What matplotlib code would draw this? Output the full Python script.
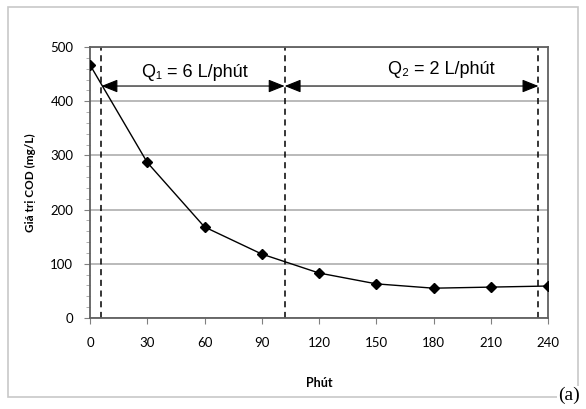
import matplotlib.pyplot as plt
from matplotlib.patches import Rectangle

# du lieu doc tu hinh
phut = [0, 30, 60, 90, 120, 150, 180, 210, 240]
cod = [467, 287, 168, 118, 83, 63, 55, 57, 59]
moc_thoi_gian = [6, 102, 235]   # cac duong dut net
muc_mui_ten = 428
nhan_q1 = 'Q₁ = 6 L/phút'
nhan_q2 = 'Q₂ = 2 L/phút'

fig = plt.figure(figsize=(5.86, 4.09), dpi=100)
W, H = 586, 409

# khung ngoai
fig.patches.append(Rectangle((8 / W, 1 - 397 / H), 570 / W, 390 / H, transform=fig.transFigure,
                             fill=False, edgecolor='#c8c8c8', linewidth=1.2))

ax = fig.add_axes([90 / W, 1 - 318 / H, 458 / W, 271 / H])
ax.set_xlim(0, 240)
ax.set_ylim(0, 500)

ax.plot(phut, cod, color='black', linewidth=1.0, marker='D', markersize=5, zorder=3)

for x in moc_thoi_gian:
    ax.axvline(x, color='black', linestyle=(0, (4, 3)), linewidth=1.1, zorder=2)

mui_ten = dict(arrowstyle='<|-|>,head_length=1.0,head_width=0.4', color='black', lw=0.8,
               shrinkA=0, shrinkB=0)
ax.annotate('', xy=(moc_thoi_gian[0], muc_mui_ten), xytext=(moc_thoi_gian[1], muc_mui_ten),
            arrowprops=mui_ten)
ax.annotate('', xy=(moc_thoi_gian[1], muc_mui_ten), xytext=(moc_thoi_gian[2], muc_mui_ten),
            arrowprops=mui_ten)
ax.text(55, 453, nhan_q1, ha='center', va='center', fontsize=13, family='Liberation Sans')
ax.text(184, 458, nhan_q2, ha='center', va='center', fontsize=13, family='Liberation Sans')

ax.set_xticks(phut)
ax.set_yticks([0, 100, 200, 300, 400, 500])
ax.set_yticks(range(0, 501, 20), minor=True)
ax.grid(axis='y', color='#b4b4b4', linewidth=1.3)
ax.set_axisbelow(True)
for s in ax.spines.values():
    s.set_color('#606060')
    s.set_linewidth(1.3)
ax.tick_params(axis='both', labelsize=9.5, colors='#808080', labelcolor='black', length=4, direction='out')
ax.tick_params(axis='x', pad=10)
ax.tick_params(axis='y', pad=8)
ax.tick_params(axis='y', which='minor', length=3, colors='#a0a0a0')
for lbl in ax.get_xticklabels() + ax.get_yticklabels():
    lbl.set_family('Lato')

ax.set_xlabel('Phút', fontsize=9, fontweight='bold', family='Lato', labelpad=20)
ax.set_ylabel('Giá trị COD (mg/L)', fontsize=8.5, fontweight='bold', family='Lato', labelpad=10)

fig.text(569 / W, 1 - 395 / H, '(a)', ha='center', va='center', fontsize=14, family='Liberation Serif',
         bbox=dict(facecolor='white', edgecolor='none', pad=0.5))

fig.savefig('out.png', dpi=100, facecolor='white')
